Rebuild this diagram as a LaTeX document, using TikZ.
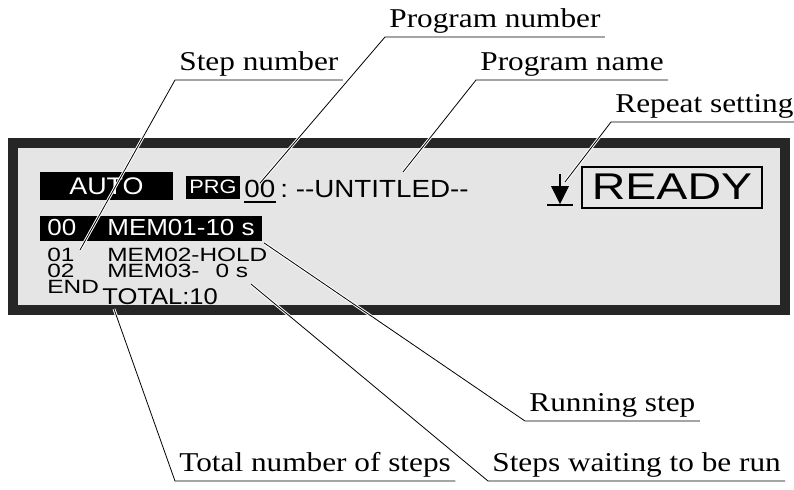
\documentclass[tikz,border=0pt]{standalone}
\usepackage{fontspec}
\newfontfamily\lblfont[FakeStretch=1.15]{Liberation Serif}
\newfontfamily\lcdfont[FakeStretch=1.12]{Liberation Sans}
\newfontfamily\rowfont[FakeStretch=1.27]{Liberation Sans}
\newfontfamily\readyfont[FakeStretch=1.25]{Liberation Sans}
\begin{document}
\begin{tikzpicture}[x=0.5pt,y=-0.5pt,
  lbl/.style={anchor=south west,inner xsep=2pt,inner ysep=1.5pt,
    font=\lblfont\fontsize{13.6}{15}\selectfont},
  lead/.style={line width=0.4pt,preaction={draw=white,line width=1.4pt}},
  lcd/.style={inner sep=0pt,anchor=base west,font=\rowfont\fontsize{9.6}{8}\selectfont},
  invbox/.style={fill=black,text=white,inner sep=0pt}]

\useasboundingbox (0,0) rectangle (794,489);

% MOLDURA
\draw[line width=5pt,draw=black!85,fill=black!10]
(13,143)
rectangle
(785,310);

% LINHA SUPERIOR
\node[invbox,minimum width=66.5pt,minimum height=14pt,
  font=\lcdfont\fontsize{12}{13}\selectfont] (auto) at (106.5,186) {AUTO};

\node[invbox,minimum width=27pt,minimum height=11.5pt,
  font=\lcdfont\fontsize{9.7}{11}\selectfont] (prg) at (213,187) {PRG};

\node[lcd,font=\lcdfont\fontsize{12.4}{13}\selectfont] (pnum) at (244,197) {00};
\draw[line width=0.8pt] ([yshift=-2.5pt]pnum.base west) -- ([yshift=-2.5pt]pnum.base east);

\node[lcd,font=\lcdfont\fontsize{12.4}{13}\selectfont] (ptitle) at (280,197) {:\ -{}-UNTITLED-{}-};

% REPETICAO
\coordinate (rpt) at (560,174);
\draw[line width=1.2pt] (rpt) -- ++(0,16);
\fill ([shift={(-9,12)}]rpt) -- ++(18,0) -- ++(-9,18) -- cycle;
\draw[line width=1.2pt] ([shift={(-13,31)}]rpt) -- ++(26,0);

\node[draw,line width=1pt,minimum width=90pt,minimum height=20.5pt,inner sep=0pt,
  font=\readyfont\fontsize{18.6}{20}\selectfont] (ready) at (672,187) {READY};

% PASSOS
\node[invbox,anchor=west,minimum height=12.5pt,inner xsep=3.5pt,
  font=\lcdfont\fontsize{11.6}{13}\selectfont] (run) at (40,228)
{\makebox[30pt][l]{00}MEM01-10 s};

\node[lcd,anchor=north west,align=left] (steps) at (47,248)
{\makebox[30pt][l]{01}MEM02-HOLD\\
\makebox[30pt][l]{02}MEM03-\hspace{8pt}0 s\\
END};

\node[lcd,font=\lcdfont\fontsize{11.4}{13}\selectfont] (tot) at (102,304) {TOTAL:10};

% ROTULOS
\node[lbl] (pnumlbl) at (385,37) {Program number};
\node[lbl] (steplbl) at (175,80) {Step number};
\node[lbl] (pnamelbl) at (476,80) {Program name};
\node[lbl] (rptlbl) at (611,122) {Repeat setting};
\node[lbl] (runlbl) at (525,421) {Running step};
\node[lbl] (totlbl) at (175,481) {Total number of steps};
\node[lbl] (waitlbl) at (488,481) {Steps waiting to be run};

% LINHAS DE CHAMADA
\coordinate (stepend) at (80,250);
\coordinate (pnameend) at (403,172);
\coordinate (waitend) at (251,284);

\draw[lead] (stepend) -- (steplbl.south west) -- (steplbl.south east);
\draw[lead] ([yshift=-2pt]pnum.north) -- (pnumlbl.south west) -- (pnumlbl.south east);
\draw[lead] (pnameend) -- (pnamelbl.south west) -- (pnamelbl.south east);
\draw[lead] ([shift={(5,8)}]rpt) -- (rptlbl.south west) -- (rptlbl.south east);
\draw[lead] ([shift={(2,2)}]run.south east) -- (runlbl.south west) -- (runlbl.south east);
\draw[lead] (waitend) -- (waitlbl.south west) -- (waitlbl.south east);
\draw[lead] ([shift={(12,5)}]tot.base west) -- (totlbl.south west) -- (totlbl.south east);

\end{tikzpicture}
\end{document}
